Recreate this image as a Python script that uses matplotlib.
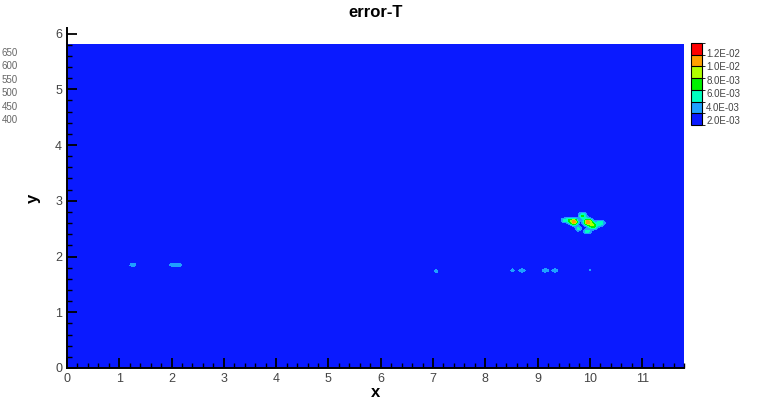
import numpy as np
import matplotlib
matplotlib.use("Agg")
import matplotlib.pyplot as plt
from matplotlib.colors import ListedColormap, BoundaryNorm
from matplotlib.ticker import MultipleLocator

plt.rcParams['font.family'] = ['Liberation Sans', 'DejaVu Sans']

# dominio
x_max = 11.8
y_max = 5.8
fondo = 0.0005

# manchas de error: centro x, centro y, amplitud, ancho x, ancho y
blob_x = [9.70, 9.96, 10.06, 9.86, 9.60, 9.50, 10.20, 9.95, 9.78,
          1.26, 2.08, 7.06, 8.52, 8.70, 9.15, 9.33, 10.00]
blob_y = [2.62, 2.62, 2.55, 2.73, 2.65, 2.65, 2.60, 2.45, 2.50,
          1.85, 1.85, 1.74, 1.75, 1.75, 1.75, 1.75, 1.76]
blob_amp = [0.0105, 0.0108, 0.0070, 0.0060, 0.0050, 0.0035, 0.0050, 0.0045, 0.0040,
            0.0030, 0.0035, 0.0030, 0.0032, 0.0033, 0.0033, 0.0033, 0.0025]
blob_sx = [0.05, 0.06, 0.06, 0.05, 0.05, 0.04, 0.06, 0.05, 0.04,
           0.05, 0.09, 0.03, 0.025, 0.05, 0.05, 0.045, 0.015]
blob_sy = [0.04, 0.04, 0.04, 0.04, 0.035, 0.025, 0.035, 0.03, 0.03,
           0.02, 0.025, 0.02, 0.022, 0.022, 0.022, 0.022, 0.015]

niveles = [0.0, 0.002, 0.004, 0.006, 0.008, 0.010, 0.012, 0.014]
colores = ['#0a1aff', '#1ea0ff', '#00ffc0', '#00f000', '#b0ff00', '#ffa000', '#ff0000']
etiquetas_cb = ["1.2E-02", "1.0E-02", "8.0E-03", "6.0E-03", "4.0E-03", "2.0E-03"]
texto_izq = ["650", "600", "550", "500", "450", "400"]

xs = np.linspace(0, x_max, 600)
ys = np.linspace(0, y_max, 300)
X, Y = np.meshgrid(xs, ys)
Z = np.full_like(X, fondo)
for bx, by, a, sx, sy in zip(blob_x, blob_y, blob_amp, blob_sx, blob_sy):
    Z += a * np.exp(-((X - bx) ** 2 / (2 * sx ** 2) + (Y - by) ** 2 / (2 * sy ** 2)))

cmap = ListedColormap(colores)
norm = BoundaryNorm(niveles, cmap.N)

fig = plt.figure(figsize=(7.67, 4.0), dpi=100)
ax = fig.add_axes([67 / 767, 1 - 368 / 400, (684 - 67) / 767, (368 - 28) / 400])
ax.contourf(X, Y, Z, levels=niveles, cmap=cmap, norm=norm)
ax.set_xlim(0, x_max)
ax.set_ylim(0, 6.1)
ax.spines['top'].set_visible(False)
ax.spines['right'].set_visible(False)
ax.spines['left'].set_linewidth(1.4)
ax.spines['bottom'].set_linewidth(1.4)
ax.xaxis.set_major_locator(MultipleLocator(1))
ax.xaxis.set_minor_locator(MultipleLocator(0.2))
ax.yaxis.set_major_locator(MultipleLocator(1))
ax.yaxis.set_minor_locator(MultipleLocator(0.2))
ax.tick_params(which='major', direction='in', length=7, width=1.3, labelsize=9, labelcolor='#444444')
ax.tick_params(which='minor', direction='in', length=3.5, width=1.0)
ax.set_xlabel("x", fontsize=12, fontweight='bold', labelpad=0)
ax.set_ylabel("y", fontsize=12, fontweight='bold', labelpad=10)
ax.set_title("error-T", fontsize=12, fontweight='bold', pad=8)

# leyenda de colores (etiquetas algo desplazadas como en tecplot)
cb_top, cb_bot = 43, 125
cax = fig.add_axes([691 / 767, 1 - cb_bot / 400, 11 / 767, (cb_bot - cb_top) / 400])
cb = fig.colorbar(plt.cm.ScalarMappable(norm=norm, cmap=cmap), cax=cax,
                  boundaries=niveles, drawedges=True)
pos_px = [53 + 13.4 * i for i in range(len(etiquetas_cb))]
cb.set_ticks([(cb_bot - p) / (cb_bot - cb_top) * niveles[-1] for p in pos_px])
cb.set_ticklabels(etiquetas_cb)
cb.ax.tick_params(length=0, labelsize=7, labelcolor='#444444', pad=3)
cb.outline.set_linewidth(0.8)
cb.dividers.set_linewidth(0.8)

# texto a la izquierda
for i, t in enumerate(texto_izq):
    fig.text(2 / 767, 1 - (53 + 13.4 * i) / 400, t, fontsize=7, color='#666666',
             ha='left', va='center')

plt.savefig("out.png", dpi=100)
